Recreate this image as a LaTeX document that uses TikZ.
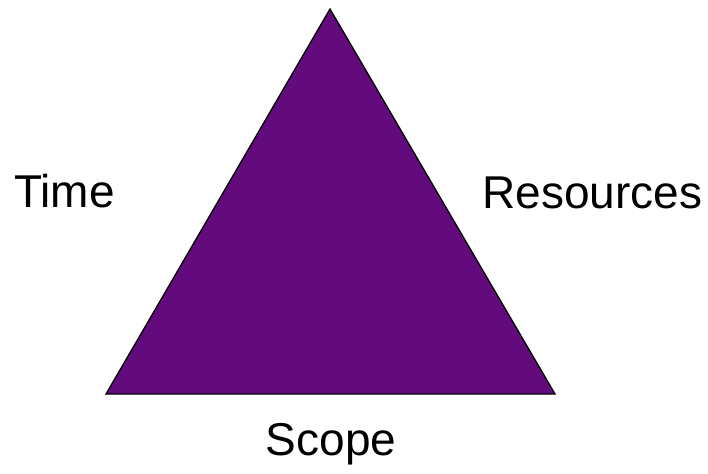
\documentclass[tikz,border=0pt]{standalone}
\usepackage{fontspec}
\setmainfont{Liberation Sans}
\usetikzlibrary{positioning}
\definecolor{triviolet}{RGB}{99,11,124}

\begin{document}
\begin{tikzpicture}[x=1pt, y=-1pt]
                    \tikzstyle{side} = [font=\fontsize{46}{55}\selectfont, inner sep=0pt, anchor=base]
                    \useasboundingbox (0, 0) rectangle (708, 473);
                    \coordinate (top) at (330, 9);
                    \coordinate (left) at (106, 394);
                    \coordinate (right) at (555, 394);
                    \filldraw[fill=triviolet, draw=black, line width=1.3pt, line join=miter] (top) -- (left) -- (right) -- cycle;

                    \node[side] (time) at (64.5, 207) {Time};
                    \node[side] (resources) at (592.5, 208) {Resources};
                    \node[side] (scope) at (331, 455) {Scope};
                \end{tikzpicture}
\end{document}
